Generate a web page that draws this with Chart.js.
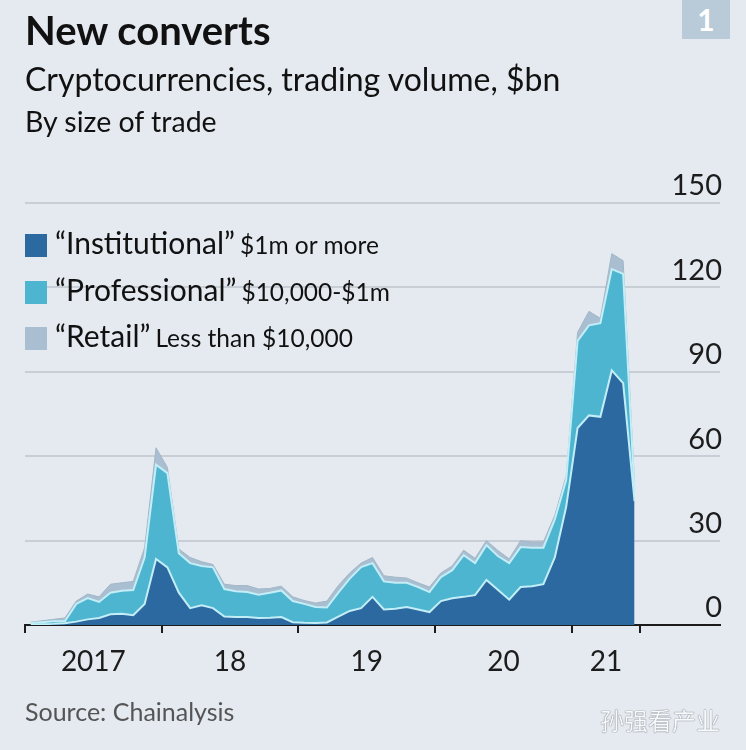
<!DOCTYPE html>
<html>
<head>
<meta charset="utf-8">
<script src="https://cdn.jsdelivr.net/npm/chart.js@4"></script>
<style>
  html, body { margin: 0; padding: 0; }
  body { width: 746px; height: 750px; overflow: hidden; background: #e4eaf0; position: relative; font-family: Lato, "Open Sans", sans-serif; color: #111; }
  .abs { position: absolute; white-space: nowrap; }
  #title { left: 25px; top: 6px; font-size: 40px; font-weight: bold; }
  #sub1 { left: 25px; top: 59px; font-size: 32px; }
  #sub2 { left: 25px; top: 104px; font-size: 28.5px; }
  #badge { left: 682px; top: 0; width: 48px; height: 39px; background: #b9cad9; color: #fff; font-size: 30px; font-weight: bold; text-align: center; line-height: 39px; }
  #wrap { left: 0; top: 0; width: 746px; height: 750px; }
  .leg { left: 25px; height: 30px; line-height: 30px; }
  .leg i { display: inline-block; width: 22px; height: 23px; vertical-align: -3px; margin-right: 8px; }
  .leg b { font-weight: normal; font-size: 30px; }
  .leg span { font-size: 24.5px; margin-left: 5px; }
  #source { left: 25px; top: 696px; font-size: 25px; color: #555; }
  #mark { right: 26px; top: 702px; font-size: 24px; color: #f7f9fb; font-family: "Noto Sans CJK SC", sans-serif; text-shadow: 0 0 1px #6f747a, 0 0 1px #6f747a; }
</style>
</head>
<body>
<div class="abs" id="wrap"><canvas id="chart" width="746" height="750"></canvas></div>
<div class="abs" id="title">New converts</div>
<div class="abs" id="sub1">Cryptocurrencies, trading volume, $bn</div>
<div class="abs" id="sub2">By size of trade</div>
<div class="abs" id="badge">1</div>
<div class="abs leg" style="top:227px"><i style="background:#2c69a0"></i><b>“Institutional”</b><span>$1m or more</span></div>
<div class="abs leg" style="top:274px"><i style="background:#4db5cf"></i><b>“Professional”</b><span>$10,000-$1m</span></div>
<div class="abs leg" style="top:320px"><i style="background:#a9bfd1"></i><b>“Retail”</b><span>Less than $10,000</span></div>
<div class="abs" id="source">Source: Chainalysis</div>
<div class="abs" id="mark">孙强看产业</div>
<script>
'use strict';

// months since Jan 2017, points sit mid-month (Jan 2017 .. Jun 2021)
const months = [];
for (let m = 0; m < 54; m++) months.push(m + 0.5);

// $bn per size band (layer thickness, stacked)
const institutional = [
  0.2, 0.3, 0.4, 0.6, 1.2, 2.0, 2.5, 3.8, 4.0, 3.5, 7.5, 23.5,
  20.5, 11.5, 6.0, 7.0, 6.0, 3.0, 2.8, 2.8, 2.5, 2.6, 2.8, 1.0,
  0.8, 0.7, 0.9, 3.0, 5.0, 6.0, 10.0, 5.5, 5.8, 6.4, 5.5, 4.6,
  8.5, 9.5, 10.0, 10.6, 16.0, 12.5, 9.0, 13.5, 13.8, 14.5, 24.0, 42.0,
  70.0, 74.5, 74.0, 90.5, 86.0, 44.0
];
const professional = [
  0.5, 0.7, 0.9, 0.7, 6.3, 7.6, 5.7, 7.7, 8.2, 8.9, 16.5, 33.5,
  33.5, 14.0, 16.0, 14.0, 14.5, 9.8, 9.2, 8.9, 8.3, 8.9, 9.5, 7.5,
  6.7, 5.7, 5.3, 8.5, 11.5, 14.6, 12.0, 10.0, 9.2, 8.6, 8.0, 7.1,
  8.5, 10.0, 14.8, 11.4, 12.4, 12.0, 13.0, 14.2, 13.7, 13.0, 13.5, 9.5,
  31.0, 32.0, 33.3, 36.0, 38.8, 3.0
];
const retail = [
  0.3, 0.5, 0.7, 1.2, 1.0, 1.4, 1.8, 3.0, 2.8, 3.1, 3.5, 6.0,
  2.0, 1.5, 2.0, 1.5, 1.0, 1.7, 2.0, 2.3, 2.0, 1.5, 1.5, 1.5,
  1.2, 1.4, 2.3, 2.5, 2.0, 1.4, 2.0, 2.0, 2.0, 1.7, 1.5, 1.8,
  1.5, 1.5, 1.8, 1.7, 1.6, 2.0, 1.5, 2.3, 2.0, 2.0, 1.5, 1.5,
  3.0, 5.0, 1.7, 5.5, 4.7, 3.0
];

const yearTicks = [0, 12, 24, 36, 48, 54];
const yearLabelPos = [6, 18, 30, 42, 51];
const yearLabels = ['2017', '18', '19', '20', '21'];

const INK = '#1c1c1c';
const EDGE = '#c3eef8';

const pts = arr => arr.map((v, i) => ({ x: months[i], y: v }));

new Chart(document.getElementById('chart'), {
  type: 'line',
  data: {
    datasets: [
      { label: 'Institutional', data: pts(institutional), backgroundColor: '#2c69a0', borderColor: EDGE, borderWidth: 2, fill: 'origin' },
      { label: 'Professional', data: pts(professional), backgroundColor: '#4db5cf', borderColor: EDGE, borderWidth: 2, fill: '-1' },
      { label: 'Retail', data: pts(retail), backgroundColor: '#a9bfd1', borderColor: '#a3b6c6', borderWidth: 1, fill: '-1' },
    ],
  },
  options: {
    responsive: false,
    animation: false,
    events: [],
    layout: { padding: { left: 25, right: 26, top: 203, bottom: 77 } },
    elements: { point: { radius: 0 }, line: { tension: 0 } },
    plugins: { legend: { display: false }, tooltip: { enabled: false } },
    scales: {
      y: {
        position: 'right', stacked: true, min: 0, max: 150,
        afterFit: s => { s.width = 0; },
        border: { display: false },
        grid: { color: c => c.tick.value === 0 ? 'rgba(0,0,0,0)' : '#c7ced5', lineWidth: 2, drawTicks: false },
        ticks: { stepSize: 30, mirror: true, padding: 2, labelOffset: -17, color: INK, font: { family: 'Lato', size: 29 } },
      },
      x: {
        type: 'linear', min: 0, max: 61, weight: 1,
        afterFit: s => { s.height = 8; },
        afterBuildTicks: s => { s.ticks = yearTicks.map(v => ({ value: v })); },
        border: { display: true, color: INK, width: 2 },
        grid: { drawOnChartArea: false, drawTicks: true, tickLength: 8, color: INK, lineWidth: 2 },
        ticks: { display: false },
      },
      x2: {
        type: 'linear', position: 'bottom', min: 0, max: 61, weight: 2,
        afterFit: s => { s.height = 40; },
        afterBuildTicks: s => { s.ticks = yearLabelPos.map(v => ({ value: v })); },
        border: { display: false },
        grid: { display: false, drawTicks: false },
        ticks: {
          padding: 12, color: INK, maxRotation: 0, autoSkip: false,
          font: { family: 'Lato', size: 28 },
          callback: (v, i) => yearLabels[i],
        },
      },
    },
  },
});
</script>
</body>
</html>
